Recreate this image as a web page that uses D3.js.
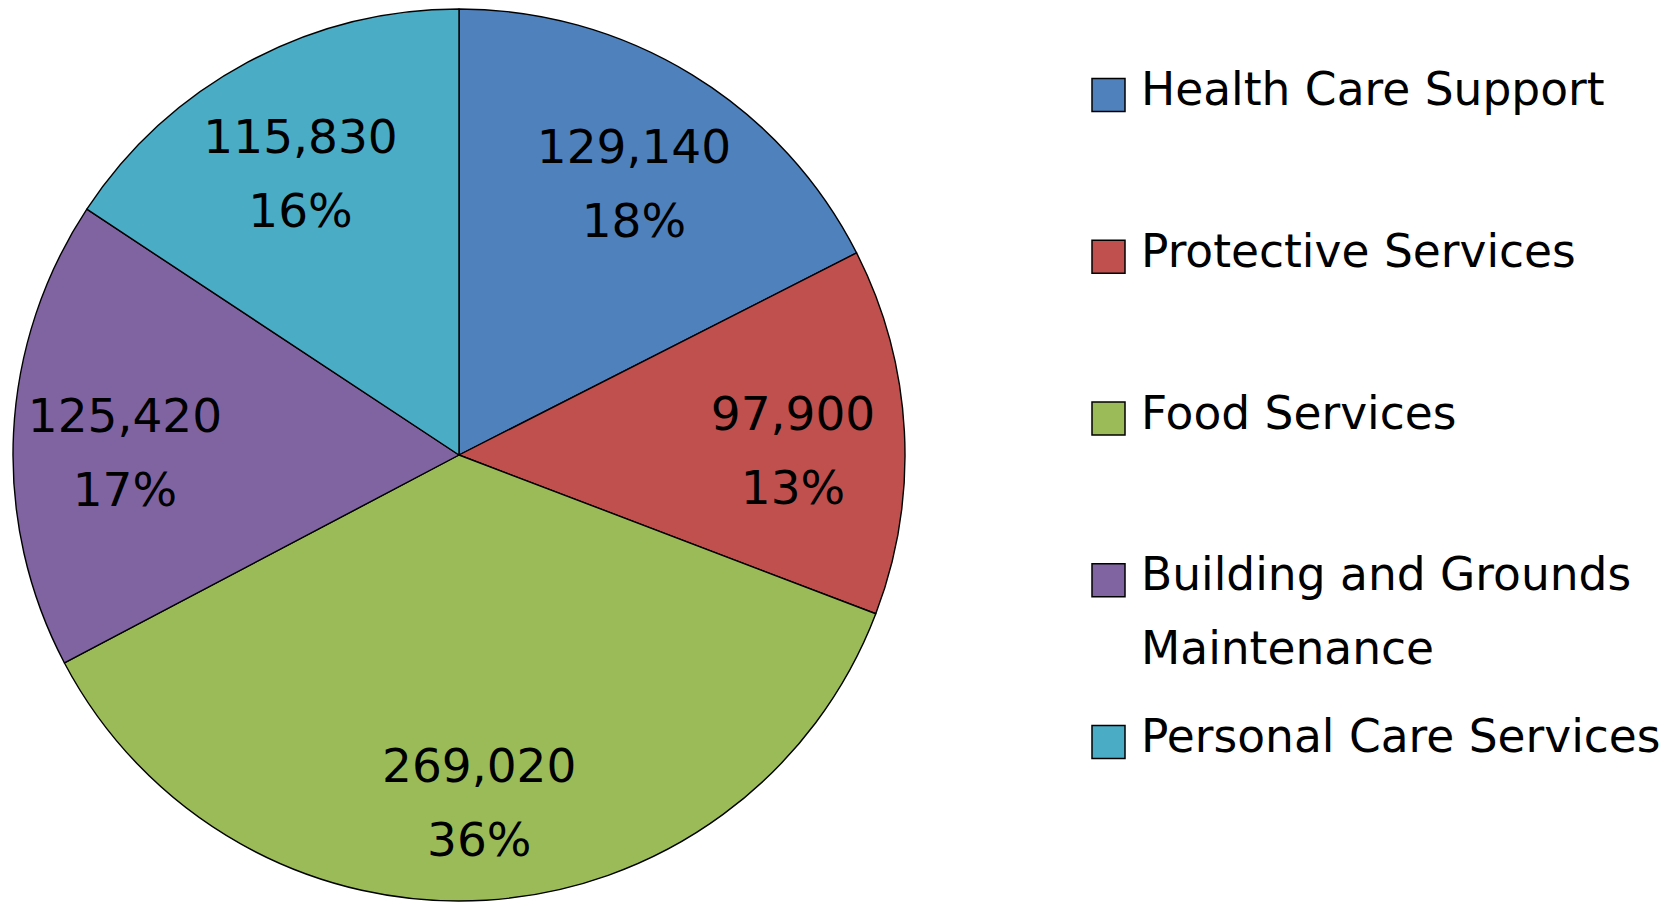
<!DOCTYPE html>
<html>
<head>
<meta charset="utf-8">
<script src="https://cdn.jsdelivr.net/npm/d3@7"></script>
<style>
    body { margin: 0; background: #ffffff; }
    svg { display: block; }
</style>
</head>
<body>
<script>
/* ========= Data ========= */
var categories = ["Health Care Support", "Protective Services", "Food Services",
    "Building and Grounds Maintenance", "Personal Care Services"];
var values = [129140, 97900, 269020, 125420, 115830];
// legend text, broken into lines as in the original
var legendLines = [["Health Care Support"], ["Protective Services"], ["Food Services"],
    ["Building and Grounds", "Maintenance"], ["Personal Care Services"]];

/* ========= Constants ========= */
var colors = ["#4f81bd", "#c0504d", "#9bbb59", "#8064a2", "#4bacc6"];
var w = 1678;
var h = 902;
var cx = 459;
var cy = 455;
var radius = 446;
var labelRatio = 0.75;
var fontFamily = "'DejaVu Sans', Verdana, sans-serif";
var labelSize = "47px";
var legendSize = "45.5px";
var lineGap = 74;

var svg = d3.select("body")
    .append("svg")
    .attr("width", w)
    .attr("height", h);

/* ========= Pie ========= */
var total = d3.sum(values);
var pie = d3.pie().sort(null).value(function (d) { return d; });
var arcs = pie(values);

var arc = d3.arc().innerRadius(0).outerRadius(radius);
var labelArc = d3.arc().innerRadius(radius * labelRatio).outerRadius(radius * labelRatio);

var g = svg.append("g")
    .attr("transform", "translate(" + cx + "," + cy + ")");

g.selectAll("path.slice")
    .data(arcs)
    .enter()
    .append("path")
    .attr("class", "slice")
    .attr("d", arc)
    .attr("fill", function (d, i) { return colors[i]; })
    .attr("stroke", "#000000")
    .attr("stroke-width", 1.4)
    .attr("stroke-linejoin", "round");

var fmt = d3.format(",");
var labels = g.selectAll("text.label")
    .data(arcs)
    .enter()
    .append("text")
    .attr("class", "label")
    .attr("font-family", fontFamily)
    .attr("font-size", labelSize)
    .attr("fill", "#000000")
    .attr("text-anchor", "middle")
    .attr("transform", function (d) {
        var c = labelArc.centroid(d);
        return "translate(" + c[0] + "," + c[1] + ")";
    });
labels.append("tspan")
    .attr("x", 0)
    .attr("y", -lineGap / 2 + 30)
    .text(function (d) { return fmt(d.data); });
labels.append("tspan")
    .attr("x", 0)
    .attr("y", lineGap / 2 + 30)
    .text(function (d) { return Math.round(d.data / total * 100) + "%"; });

/* ========= Legend ========= */
var legendY = d3.scalePoint()
    .domain(categories)
    .range([95, 742]);

var legend = svg.append("g")
    .selectAll("g")
    .data(categories)
    .enter()
    .append("g")
    .attr("transform", function (d) { return "translate(1092," + legendY(d) + ")"; });

legend.append("rect")
    .attr("x", 0)
    .attr("y", -16.5)
    .attr("width", 33)
    .attr("height", 33)
    .attr("fill", function (d, i) { return colors[i]; })
    .attr("stroke", "#000000")
    .attr("stroke-width", 1.5);

legend.append("text")
    .attr("font-family", fontFamily)
    .attr("font-size", legendSize)
    .attr("fill", "#000000")
    .selectAll("tspan")
    .data(function (d, i) { return legendLines[i]; })
    .enter()
    .append("tspan")
    .attr("x", 49)
    .attr("y", function (d, j) { return 10 + j * 73.5; })
    .text(function (d) { return d; });
</script>
</body>
</html>
